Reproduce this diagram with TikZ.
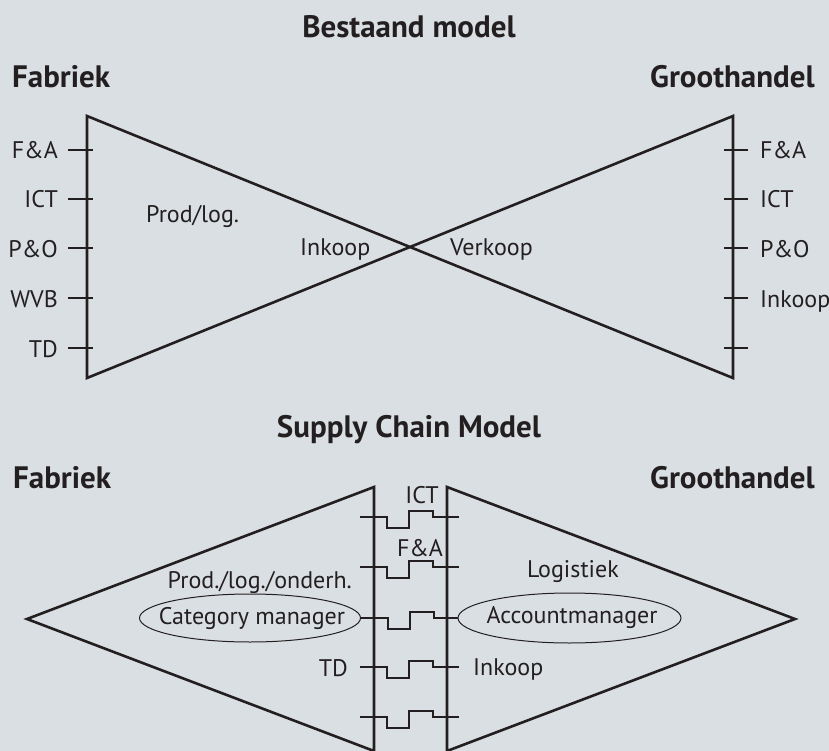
\documentclass[tikz,border=0pt]{standalone}
\usepackage{fontspec}
\setmainfont{PT Sans}
\usetikzlibrary{shapes.geometric}
\definecolor{bg}{RGB}{218,223,227}
\definecolor{ink}{RGB}{35,31,32}
\tikzset{
  main/.style={line width=2.6pt, draw=ink, line join=miter},
  tickline/.style={line width=1.2pt, draw=ink},
  conn/.style={line width=1.4pt, draw=ink, line join=miter},
  lbl/.style={font=\fontsize{24}{27}\selectfont, text=ink, inner sep=0pt},
  ttl/.style={font=\bfseries\fontsize{31}{34}\selectfont, text=ink, inner sep=0pt},
  oval/.style={ellipse, draw=ink, line width=1pt, inner sep=0pt},
}
\begin{document}
\begin{tikzpicture}[x=1pt,y=-1pt]
\fill[bg] (0,0) rectangle (829,751);
\useasboundingbox (0,0) rectangle (829,751);

% ---------- Bestaand model ----------
\node[ttl, anchor=base] (t1) at (409,38) {Bestaand model};
\node[ttl, anchor=base west] (fab1) at (12,88) {Fabriek};
\node[ttl, anchor=base east] (gro1) at (815,88) {Groothandel};

\coordinate (TL) at (87,116);
\coordinate (BL) at (87,378);
\coordinate (TR) at (733,116);
\coordinate (BR) at (733,378);
\draw[main] (BR) -- (TL) -- (BL) -- (TR) -- cycle;

\foreach \y/\t [count=\i] in {150/F\&A,199/ICT,248/P\&O,298/WVB,348/TD}{
  \coordinate (lt\i a) at (68,\y);
  \coordinate (lt\i b) at (93,\y);
  \draw[tickline] (lt\i a) -- (lt\i b);
  \node[lbl, anchor=base east] (ll\i) at (58,\y+9) {\t};
}
\foreach \y/\t [count=\i] in {150/F\&A,199/ICT,248/P\&O,298/Inkoop,348/{}}{
  \coordinate (rt\i a) at (724,\y);
  \coordinate (rt\i b) at (748,\y);
  \draw[tickline] (rt\i a) -- (rt\i b);
  \node[lbl, anchor=base west] (rl\i) at (760,\y+9) {\t};
}
\node[lbl, anchor=base west] (prod1) at (146,223) {Prod/log.};
\node[lbl, anchor=base west] (ink1) at (300,255) {Inkoop};
\node[lbl, anchor=base west] (ver1) at (450,255) {Verkoop};

% ---------- Supply Chain Model ----------
\node[ttl, anchor=base] (t2) at (409,437) {Supply Chain Model};
\node[ttl, anchor=base west] (fab2) at (13,488) {Fabriek};
\node[ttl, anchor=base east] (gro2) at (815,488) {Groothandel};

\coordinate (CLt) at (374,487);
\coordinate (CLb) at (374,751);
\coordinate (CRt) at (447,487);
\coordinate (CRb) at (447,751);
\coordinate (LA) at (27,619);
\coordinate (RA) at (795,619);
\draw[main] (CLb) -- (LA) -- (CLt) -- (CLb);
\draw[main] (CRb) -- (RA) -- (CRt) -- (CRb);

\node[oval, minimum width=221pt, minimum height=48pt] (cat) at (250,618) {};
\node[lbl] (catt) at (252,618) {Category manager};
\node[oval, minimum width=223pt, minimum height=50pt] (acc) at (569.5,618) {};
\node[lbl] (acct) at (572,618) {Accountmanager};

\foreach \r [count=\i] in {517,567,667,717}{
  \coordinate (ca\i) at (360,\r);
  \coordinate (cb\i) at (459,\r);
}
\draw[conn] (ca1) -- ++(27,0) -- ++(0,11) -- ++(22,0) -- ++(0,-17) -- ++(24,0) -- ++(0,6) -- (cb1);
\draw[conn] (ca2) -- ++(27,0) -- ++(0,11) -- ++(22,0) -- ++(0,-17) -- ++(24,0) -- ++(0,6) -- (cb2);
\draw[conn] (cat.east) -- ++(27,0) -- ++(0,11) -- ++(22,0) -- ++(0,-17) -- ++(24,0) -- ++(0,6) -- (acc.west);
\draw[conn] (ca3) -- ++(27,0) -- ++(0,11) -- ++(22,0) -- ++(0,-17) -- ++(24,0) -- ++(0,6) -- (cb3);
\draw[conn] (ca4) -- ++(27,0) -- ++(0,11) -- ++(22,0) -- ++(0,-17) -- ++(24,0) -- ++(0,6) -- (cb4);

\node[lbl, anchor=base] (ict2) at (422,503) {ICT};
\node[lbl, anchor=base] (fa2) at (420,556) {F\&A};
\node[lbl, anchor=base east] (prod2) at (352,588) {Prod./log./onderh.};
\node[lbl, anchor=base west] (log2) at (527,577) {Logistiek};
\node[lbl, anchor=base east] (td2) at (348,676) {TD};
\node[lbl, anchor=base west] (ink2) at (473,675) {Inkoop};
\end{tikzpicture}
\end{document}
